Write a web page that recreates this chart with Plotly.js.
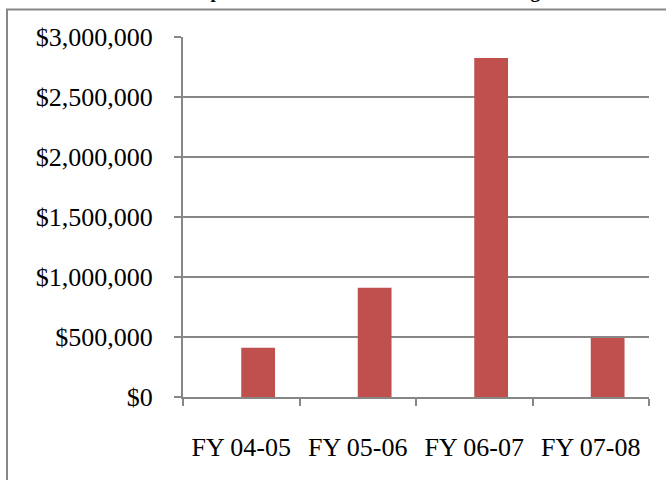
<!DOCTYPE html>
<html>
<head>
<meta charset="utf-8">
<script src="https://cdn.plot.ly/plotly-3.0.1.min.js"></script>
<style>
  html, body { margin: 0; padding: 0; background: #ffffff; }
  #chart { width: 666px; height: 480px; }
</style>
</head>
<body>
<div id="chart"></div>
<script>
// Fiscal years and yearly amounts (US dollars)
const fiscalYears = ["FY 04-05", "FY 05-06", "FY 06-07", "FY 07-08"];
const amounts = [410000, 910000, 2825000, 492000];
const yTickValues = [0, 500000, 1000000, 1500000, 2000000, 2500000, 3000000];
const yTickLabels = ["$0", "$500,000", "$1,000,000", "$1,500,000", "$2,000,000", "$2,500,000", "$3,000,000"];
const chartTitle = "Special Education Contracts and Funding";

const gray = "#878787";
const serif = "'Liberation Serif', 'Times New Roman', serif";

const trace = {
  type: "bar",
  x: fiscalYears,
  y: amounts,
  // bars sit in the right half of each category slot
  width: 0.29,
  offset: 0,
  marker: { color: "#C0504D" },
  hoverinfo: "skip"
};

const layout = {
  width: 666,
  height: 480,
  margin: { l: 183, r: 17, t: 37, b: 83 },
  paper_bgcolor: "#ffffff",
  plot_bgcolor: "#ffffff",
  showlegend: false,
  font: { family: serif, size: 26, color: "#000000" },
  xaxis: {
    type: "category",
    showline: true,
    linecolor: gray,
    linewidth: 2,
    ticks: "outside",
    tickson: "boundaries",
    ticklen: 7,
    tickwidth: 2,
    tickcolor: gray,
    showgrid: false,
    ticklabelstandoff: 26,
    tickfont: { family: serif, size: 26, color: "#000000" }
  },
  yaxis: {
    range: [0, 3000000],
    tickvals: yTickValues,
    ticktext: yTickLabels,
    showline: true,
    linecolor: gray,
    linewidth: 2,
    ticks: "outside",
    ticklen: 7,
    tickwidth: 2,
    tickcolor: gray,
    showgrid: true,
    gridcolor: gray,
    gridwidth: 2,
    zeroline: false,
    ticklabelstandoff: 16,
    tickfont: { family: serif, size: 26, color: "#000000" }
  },
  annotations: [{
    text: "<b>" + chartTitle + "</b>",
    xref: "paper", yref: "paper",
    x: 0.401, y: 1.093,
    xanchor: "center", yanchor: "bottom",
    showarrow: false,
    font: { family: serif, size: 19, color: "#000000" }
  }],
  shapes: [{
    // chart-area frame
    type: "rect",
    xref: "paper", yref: "paper",
    x0: -0.3777, x1: 1.07,
    y0: -0.3, y1: 1.0765,
    line: { color: gray, width: 2 },
    fillcolor: "rgba(0,0,0,0)",
    layer: "below"
  }]
};

Plotly.newPlot("chart", [trace], layout, { staticPlot: true, displayModeBar: false });
</script>
</body>
</html>
